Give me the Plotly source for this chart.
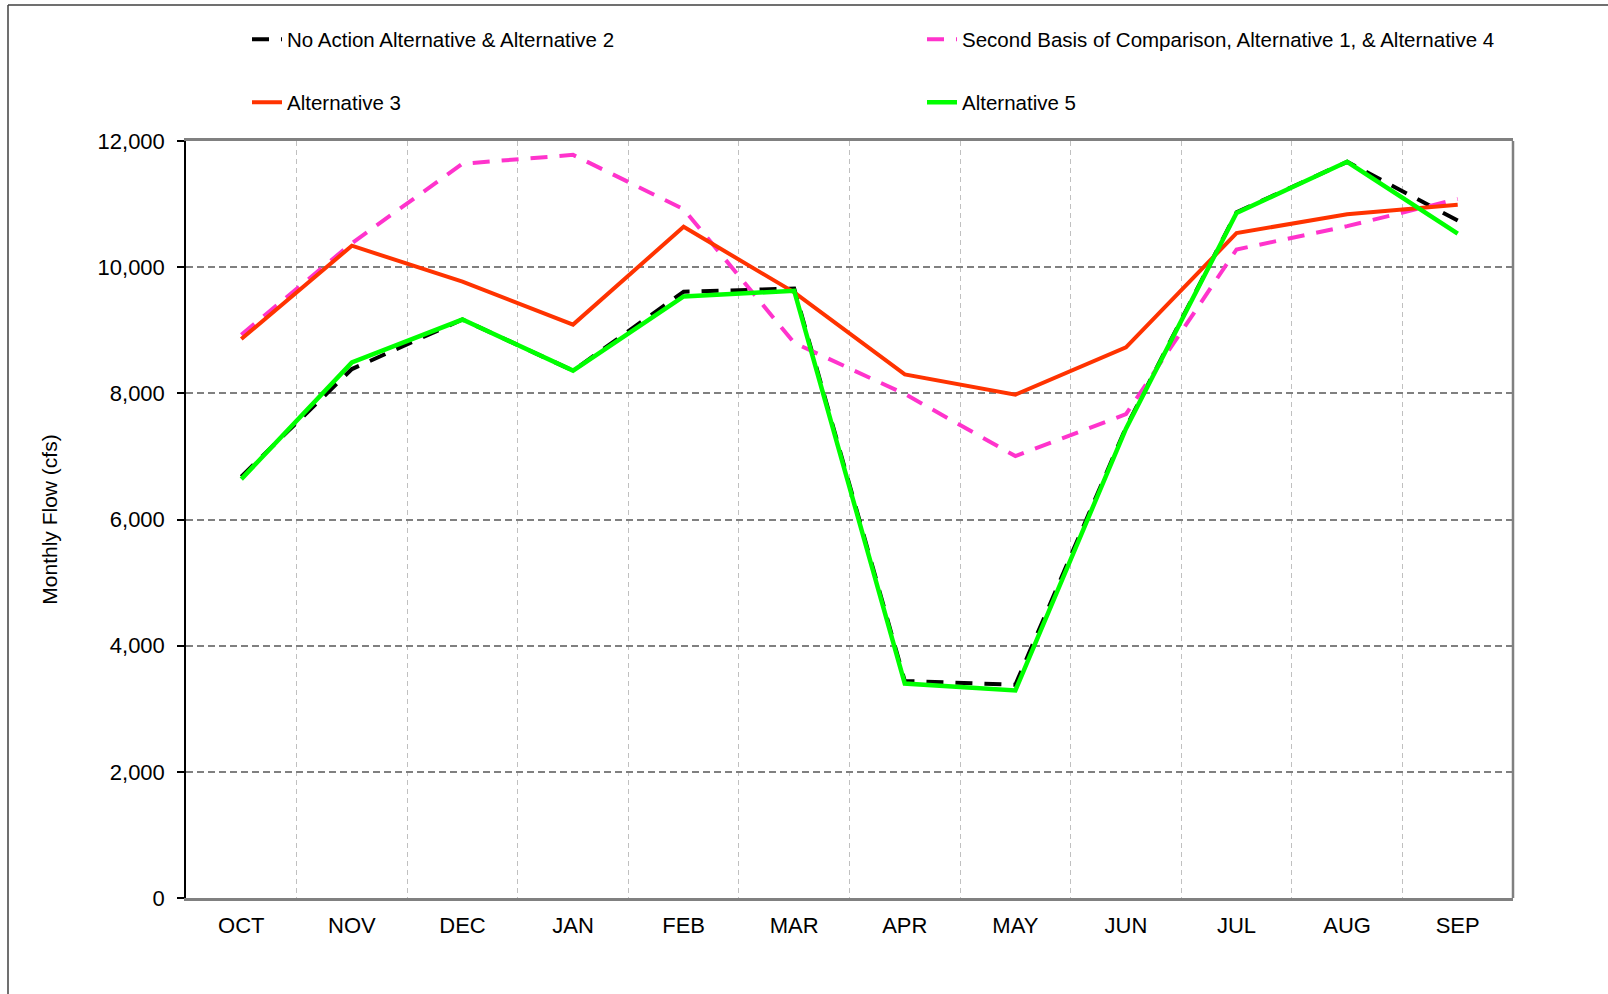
import plotly.graph_objects as go

months = ["OCT", "NOV", "DEC", "JAN", "FEB", "MAR", "APR", "MAY", "JUN", "JUL", "AUG", "SEP"]

no_action_alt2 = [6680, 8385, 9170, 8360, 9610, 9660, 3440, 3380, 7460, 10870, 11670, 10740]
second_basis_alt1_alt4 = [8930, 10380, 11640, 11780, 10920, 8800, 7990, 7005, 7670, 10280, 10650, 11080]
alternative_3 = [8860, 10340, 9770, 9090, 10640, 9600, 8300, 7980, 8730, 10540, 10840, 10990]
alternative_5 = [6640, 8490, 9170, 8360, 9535, 9625, 3400, 3290, 7440, 10860, 11670, 10530]

y_ticks = [0, 2000, 4000, 6000, 8000, 10000, 12000]

FONT = "Arial, Liberation Sans, sans-serif"

fig = go.Figure()
fig.add_trace(go.Scatter(x=months, y=no_action_alt2, mode="lines",
                         name="No Action Alternative & Alternative 2",
                         line=dict(color="#000000", width=4, dash="17px,12px"),
                         legend="legend", showlegend=True))
fig.add_trace(go.Scatter(x=months, y=second_basis_alt1_alt4, mode="lines",
                         name="Second Basis of Comparison, Alternative 1, & Alternative 4",
                         line=dict(color="#FF33CC", width=4, dash="17px,12px"),
                         legend="legend2", showlegend=True))
fig.add_trace(go.Scatter(x=months, y=alternative_3, mode="lines",
                         name="Alternative 3",
                         line=dict(color="#FF3300", width=4),
                         legend="legend3", showlegend=True))
fig.add_trace(go.Scatter(x=months, y=alternative_5, mode="lines",
                         name="Alternative 5",
                         line=dict(color="#00FF00", width=4.5),
                         legend="legend4", showlegend=True))

L, R, T, B = 186, 95, 141, 96
W, H = 1608, 994
pw, ph = W - L - R, H - T - B

def px_x(p):
    return (p - L) / pw

def px_y(p):
    return (H - B - p) / ph

leg_common = dict(orientation="h", xanchor="left", yanchor="middle",
                  font=dict(family=FONT, size=20.5, color="#000000"),
                  bgcolor="rgba(0,0,0,0)")

fig.update_layout(
    width=W, height=H,
    showlegend=True,
    margin=dict(l=L, r=R, t=T, b=B, autoexpand=False),
    paper_bgcolor="white", plot_bgcolor="white",
    font=dict(family=FONT, size=22, color="#000000"),
    legend=dict(x=px_x(247), y=px_y(39.5), **leg_common),
    legend2=dict(x=px_x(922), y=px_y(39.5), **leg_common),
    legend3=dict(x=px_x(247), y=px_y(102.5), **leg_common),
    legend4=dict(x=px_x(922), y=px_y(102.5), **leg_common),
    xaxis=dict(
        type="category", tickson="boundaries", showgrid=True,
        gridcolor="#C0C0C0", gridwidth=1, griddash="5px,4px",
        showline=True, linecolor="#808080", linewidth=3, mirror=True,
        ticks="", ticklabelstandoff=6,
        tickfont=dict(family=FONT, size=22, color="#000000"),
        range=[-0.5, 11.5], zeroline=False,
    ),
    yaxis=dict(
        range=[0, 12000], tickvals=y_ticks, tickformat=",d",
        showgrid=True, gridcolor="#808080", gridwidth=1.5, griddash="7px,4px",
        showline=True, linecolor="#000000", linewidth=1.5,
        ticks="outside", ticklen=7, tickcolor="#000000", tickwidth=1.5,
        ticklabelstandoff=8,
        tickfont=dict(family=FONT, size=22, color="#000000"),
        title=dict(text="Monthly Flow (cfs)", standoff=34,
                   font=dict(family=FONT, size=21, color="#000000")),
        zeroline=False,
    ),
    shapes=[
        dict(type="line", xref="paper", yref="paper", x0=1, x1=1, y0=0, y1=1,
             line=dict(color="#808080", width=2.5)),
        dict(type="line", xref="paper", yref="paper", x0=px_x(8), x1=px_x(1620),
             y0=px_y(5), y1=px_y(5), line=dict(color="#404040", width=1.5)),
        dict(type="line", xref="paper", yref="paper", x0=px_x(8), x1=px_x(8),
             y0=px_y(5), y1=px_y(1000), line=dict(color="#404040", width=1.5)),
    ],
)

fig.write_html("out.html", config={"displayModeBar": False},
               post_script="document.body.style.margin='0px';")
